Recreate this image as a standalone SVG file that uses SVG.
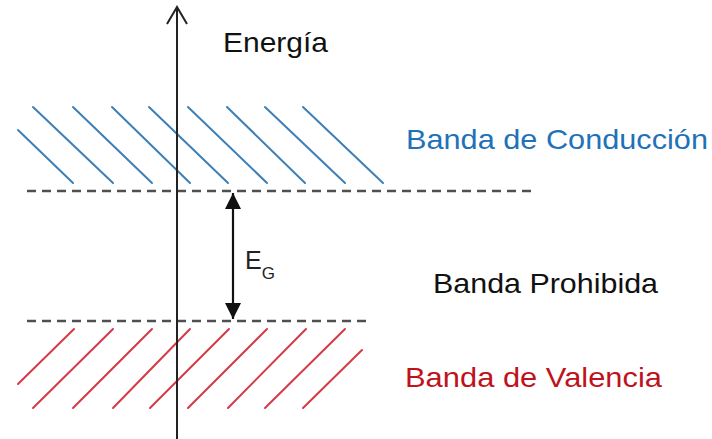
<svg xmlns="http://www.w3.org/2000/svg" width="712" height="439" viewBox="0 0 712 439">
  <style>
    text { font-family: "Liberation Sans", Arial, sans-serif; }
    .lbl { font-size: 28px; }
    .blue-line { stroke: #3d7fb6; stroke-width: 2; fill: none; stroke-linecap: round; }
    .red-line { stroke: #d63a48; stroke-width: 2; fill: none; stroke-linecap: round; }
    .dash { stroke: #4f4f4f; stroke-width: 2.6; stroke-dasharray: 9 6; fill: none; }
    .axis { stroke: #222; stroke-width: 2; fill: none; }
  </style>
  <defs>
    <marker id="tri" viewBox="0 0 16 16" refX="16" refY="8" markerWidth="16" markerHeight="16" markerUnits="userSpaceOnUse" orient="auto-start-reverse">
      <path d="M0,0 L16,8 L0,16 Z" fill="#111"/>
    </marker>
  </defs>
  <rect width="712" height="439" fill="#ffffff"/>

  <g id="conduction-band">
    <line class="blue-line" x1="18" y1="130" x2="73" y2="183"/>
    <line class="blue-line" x1="33" y1="107" x2="113" y2="183"/>
    <line class="blue-line" x1="73" y1="107" x2="152" y2="183"/>
    <line class="blue-line" x1="112" y1="107" x2="190" y2="183"/>
    <line class="blue-line" x1="149" y1="107" x2="228" y2="183"/>
    <line class="blue-line" x1="188" y1="107" x2="267" y2="183"/>
    <line class="blue-line" x1="227" y1="107" x2="305" y2="183"/>
    <line class="blue-line" x1="265" y1="107" x2="345" y2="183"/>
    <line class="blue-line" x1="303" y1="107" x2="383" y2="183"/>
  </g>

  <g id="valence-band">
    <line class="red-line" x1="18" y1="384" x2="74" y2="329"/>
    <line class="red-line" x1="33" y1="408" x2="113" y2="329"/>
    <line class="red-line" x1="73" y1="408" x2="152" y2="329"/>
    <line class="red-line" x1="113" y1="408" x2="190" y2="329"/>
    <line class="red-line" x1="150" y1="408" x2="229" y2="329"/>
    <line class="red-line" x1="188" y1="408" x2="267" y2="329"/>
    <line class="red-line" x1="228" y1="408" x2="306" y2="329"/>
    <line class="red-line" x1="265" y1="408" x2="345" y2="329"/>
    <line class="red-line" x1="303" y1="408" x2="362" y2="350"/>
  </g>

  <g id="band-edges">
    <line class="dash" x1="27" y1="191" x2="535" y2="191"/>
    <line class="dash" x1="27" y1="321" x2="372" y2="321"/>
  </g>

  <g id="energy-axis">
    <line class="axis" x1="177" y1="8" x2="177" y2="439"/>
    <polyline class="axis" points="167,24 177,7 187,24" stroke-linejoin="miter"/>
    <text class="lbl" x="223" y="52" fill="#111" textLength="105" lengthAdjust="spacingAndGlyphs">Energía</text>
  </g>

  <g id="connectors">
    <line x1="233" y1="193" x2="233" y2="319" stroke="#111" stroke-width="2.2" marker-start="url(#tri)" marker-end="url(#tri)"/>
  </g>

  <g id="gap-label">
    <text x="245" y="269" fill="#222" font-size="25">E<tspan font-size="17" dy="10">G</tspan></text>
  </g>

  <g id="label-conduction">
    <text class="lbl" x="406" y="149" fill="#1f72b8" textLength="302" lengthAdjust="spacingAndGlyphs">Banda de Conducción</text>
  </g>
  <g id="label-forbidden">
    <text class="lbl" x="433" y="293" fill="#111" textLength="225" lengthAdjust="spacingAndGlyphs">Banda Prohibida</text>
  </g>
  <g id="label-valence">
    <text class="lbl" x="405" y="387" fill="#c0121c" textLength="257" lengthAdjust="spacingAndGlyphs">Banda de Valencia</text>
  </g>
</svg>
